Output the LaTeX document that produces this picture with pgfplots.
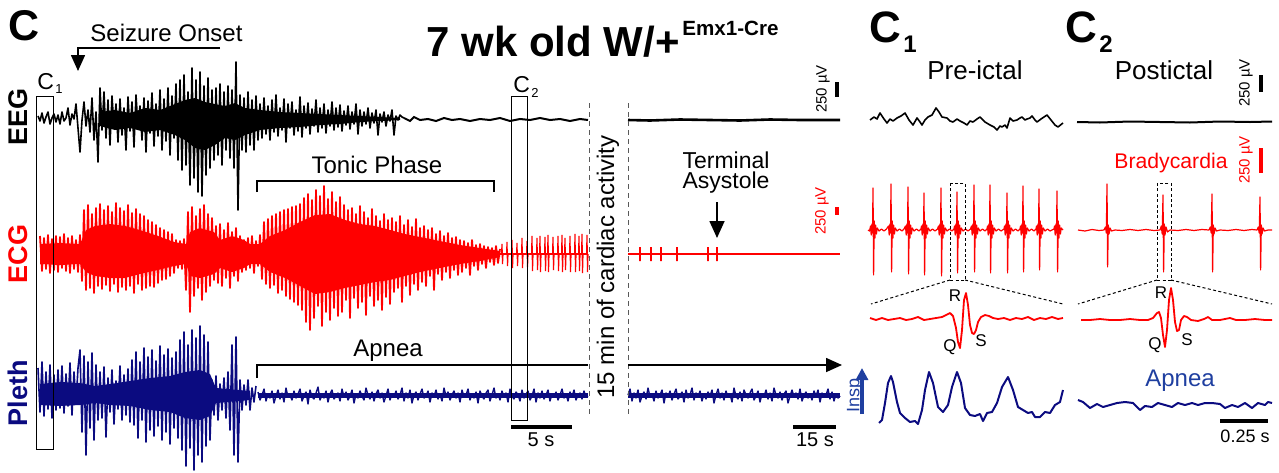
\documentclass[border=0pt]{standalone}
\usepackage{fontspec}
\setmainfont{Liberation Sans}
\usepackage{pgfplots}
\pgfplotsset{compat=1.18}
\usetikzlibrary{arrows.meta}
\definecolor{ecgred}{HTML}{FF0000}
\definecolor{pleth}{HTML}{0B0B80}
\definecolor{inspblue}{HTML}{1F3FA0}
\newcommand{\fs}[1]{\fontsize{#1}{#1}\selectfont}

\begin{document}
\begin{tikzpicture}
\begin{axis}[hide axis, scale only axis, width=639.5pt, height=236pt,
  xmin=0, xmax=1279, ymin=0, ymax=472, y dir=reverse, clip=false]
\path (0,0) rectangle (1279,472);

% ---------- dense cores (inner envelopes) ----------
\addplot[fill=black, draw=none] coordinates {
 (100,112)(115,110)(130,113)(145,108)(160,110)(175,104)(185,100)(195,98)(205,102)(215,104)(225,106)
 (235,103)(245,108)(260,110)(280,112)(300,113)(320,114)(340,115)(360,116)(380,117)(400,118)
 (400,120)(380,121)(360,122)(340,124)(320,125)(300,127)(280,128)(260,130)(245,135)(235,140)(225,138)
 (215,145)(205,150)(195,148)(185,140)(175,135)(160,130)(145,132)(130,128)(115,130)(100,126)};
\addplot[fill=ecgred, draw=none] coordinates {
 (40,244)(60,243)(80,244)(86,230)(95,226)(110,224)(125,226)(140,230)(158,236)(174,242)(186,244)(190,232)
 (200,228)(214,232)(220,240)(232,236)(244,240)(250,244)(260,244)(270,236)(285,230)(300,222)(315,215)
 (330,214)(345,220)(360,224)(375,226)(390,230)(405,234)(420,237)(440,241)(460,245)(480,248)(500,251)
 (500,257)(480,261)(460,264)(440,268)(420,272)(405,276)(390,280)(375,282)(360,285)(345,288)(330,292)
 (315,294)(300,286)(285,278)(270,272)(260,264)(250,264)(244,268)(232,272)(220,268)(214,274)(200,278)
 (190,276)(186,264)(174,266)(158,270)(140,274)(125,278)(110,278)(95,276)(86,272)(80,264)(60,265)(40,264)};
\addplot[fill=pleth, draw=none] coordinates {
 (40,384)(60,382)(80,383)(95,386)(110,384)(130,381)(150,378)(170,376)(185,372)(200,370)(210,374)(216,388)(250,391)
 (250,400)(216,403)(210,416)(200,420)(185,418)(170,412)(150,410)(130,406)(110,405)(95,403)(80,405)(60,406)(40,405)};
\addplot[fill=pleth, draw=none] coordinates {(258,393)(588,393)(588,398)(258,398)};
\addplot[fill=pleth, draw=none] coordinates {(628,393)(840,393)(840,398)(628,398)};

% ---------- main EEG (pixel rows) ----------
\addplot[black, line width=0.8pt, line join=round, mark=none]
 table[row sep=\\, header=false, x expr=\coordindex*2+38, y index=0]
 {116\\121\\113\\123\\117\\112\\124\\118\\114\\122\\
  115\\124\\112\\121\\118\\108\\125\\114\\119\\104\\128\\152\\
  120\\102\\126\\110\\132\\98\\140\\112\\162\\
  88\\130\\92\\138\\100\\145\\96\\128\\104\\142\\99\\135\\108\\150\\97\\131\\102\\147\\95\\128\\
  106\\140\\98\\152\\101\\133\\93\\146\\104\\136\\90\\150\\99\\141\\88\\155\\96\\138\\84\\160\\80\\
  170\\75\\165\\92\\185\\68\\178\\80\\192\\72\\196\\86\\175\\78\\168\\90\\160\\
  88\\155\\84\\165\\92\\150\\86\\158\\90\\168\\62\\210\\95\\
  150\\98\\152\\92\\145\\100\\150\\96\\140\\104\\
  138\\98\\134\\106\\140\\100\\132\\95\\136\\108\\130\\99\\142\\104\\128\\102\\135\\110\\131\\97\\
  137\\106\\128\\103\\134\\109\\126\\100\\132\\108\\
  128\\104\\133\\110\\126\\102\\130\\108\\127\\105\\131\\111\\125\\106\\129\\112\\124\\104\\134\\110\\
  126\\112\\124\\108\\128\\113\\123\\110\\135\\114\\122\\112\\126\\115\\121\\110\\135\\116\\120\\115\\117\\118\\};
\addplot[black, line width=1pt, mark=none] coordinates {
 (404,118)(410,121)(414,117)(420,120)(428,119)(436,121)(444,118)(452,120)(460,119)(470,121)
 (480,119)(490,120)(500,118)(510,121)(520,119)(530,120)(540,118)(550,120)(560,119)(570,121)(580,119)(588,120)};
\addplot[black, line width=1.3pt, mark=none] coordinates {
 (628,120)(650,120.5)(680,119.5)(710,120)(740,120.5)(770,119.5)(800,120)(840,120)};

% ---------- main ECG ----------
\addplot[ecgred, line width=0.9pt, line join=round, mark=none]
 table[row sep=\\, header=false, x expr=\coordindex*2+40, y index=0]
 {236\\271\\238\\269\\235\\273\\239\\270\\236\\272\\237\\268\\234\\271\\238\\273\\236\\269\\240\\272\\235\\
  281\\210\\290\\205\\288\\214\\293\\208\\286\\
  204\\289\\210\\285\\206\\291\\212\\284\\203\\292\\208\\287\\211\\290\\205\\286\\213\\293\\209\\284\\214\\
  290\\216\\288\\220\\286\\222\\287\\225\\283\\228\\280\\230\\279\\232\\276\\234\\273\\
  240\\268\\241\\269\\239\\
  290\\212\\312\\207\\296\\216\\288\\209\\300\\205\\292\\214\\286\\218\\280\\
  226\\283\\224\\286\\230\\278\\223\\288\\232\\276\\228\\281\\236\\272\\240\\
  270\\238\\268\\236\\273\\241\\266\\235\\
  279\\222\\284\\219\\288\\216\\285\\214\\293\\212\\290\\210\\296\\209\\299\\207\\302\\206\\305\\204\\
  310\\198\\322\\194\\330\\200\\318\\190\\306\\196\\326\\186\\312\\199\\320\\192\\308\\202\\316\\197\\
  312\\205\\300\\210\\318\\208\\298\\214\\308\\206\\302\\212\\315\\218\\296\\209\\306\\216\\300\\221\\310\\214\\297\\220\\304\\
  218\\292\\222\\288\\216\\302\\225\\286\\220\\295\\227\\284\\219\\290\\228\\
  282\\226\\286\\230\\276\\228\\290\\234\\274\\231\\280\\236\\272\\233\\278\\238\\270\\237\\275\\240\\
  272\\241\\268\\243\\275\\240\\266\\245\\270\\244\\264\\246\\268\\247\\262\\248\\265\\246\\263\\249\\};
\addplot[ecgred, line width=1pt, mark=none] coordinates {(498,254)(588,254)};
\addplot[ecgred, line width=0.6pt, mark=none] coordinates {
 (500,254)(501.6,254)(502,244)(502.5,264)(503,254)(506.6,254)(507,242)(507.5,266)(508,254)
 (511.6,254)(512,240)(512.5,268)(513,254)(516.6,254)(517,243)(517.5,266)(518,254)
 (521.6,254)(522,238)(522.5,268)(523,254)(526.6,254)(527,241)(527.5,267)(528,254)
 (531.6,254)(532,236)(532.5,271)(533,254)(536.6,254)(537,238)(537.5,270)(538,254)
 (539.6,254)(540,236)(540.5,272)(541,254)(544.6,254)(545,237)(545.5,271)(546,254)
 (547.6,254)(548,235)(548.5,272)(549,254)(552.6,254)(553,237)(553.5,270)(554,254)
 (557.6,254)(558,236)(558.5,271)(559,254)(561.6,254)(562,235)(562.5,272)(563,254)
 (564.6,254)(565,238)(565.5,270)(566,254)(569.6,254)(570,236)(570.5,272)(571,254)
 (574.6,254)(575,234)(575.5,272)(576,254)(578.6,254)(579,236)(579.5,271)(580,254)
 (581.6,254)(582,234)(582.5,273)(583,254)(586.6,254)(587,235)(587.5,272)(588,254)};
\addplot[ecgred, line width=1.2pt, mark=none] coordinates {(628,254)(840,254)};
\addplot[ecgred, line width=0.6pt, mark=none] coordinates {
 (640,254)(640,247)(640,261)(640,254)(651,254)(651,247)(651,261)(651,254)
 (661,254)(661,247)(661,261)(661,254)(677,254)(677,247)(677,261)(677,254)
 (708,254)(708,247)(708,261)(708,254)(717,254)(717,247)(717,261)(717,254)};

% ---------- main Pleth ----------
\addplot[pleth, line width=0.8pt, line join=round, mark=none]
 table[row sep=\\, header=false, x expr=\coordindex*2+38, y index=0]
 {368\\412\\362\\416\\372\\409\\365\\418\\375\\410\\
  370\\408\\366\\413\\374\\406\\363\\415\\372\\404\\368\\
  350\\432\\356\\455\\362\\428\\353\\440\\365\\420\\
  372\\418\\367\\437\\378\\412\\370\\424\\381\\409\\366\\420\\375\\415\\369\\422\\
  360\\425\\352\\438\\362\\420\\348\\442\\357\\430\\350\\436\\361\\426\\346\\440\\355\\432\\349\\444\\358\\428\\352\\438\\
  340\\450\\332\\466\\345\\448\\330\\470\\338\\455\\326\\462\\335\\446\\342\\440\\
  380\\415\\376\\420\\384\\410\\378\\418\\
  372\\430\\345\\455\\337\\462\\380\\410\\
  385\\405\\380\\410\\388\\402\\386\\};
\addplot[pleth, line width=0.7pt, line join=round, mark=none]
 table[row sep=\\, header=false, x expr=\coordindex*2+258, y index=0]
 {392\\400\\395\\389\\401\\394\\398\\391\\403\\396\\390\\399\\393\\402\\388\\397\\395\\400\\391\\398\\
  394\\389\\401\\396\\392\\404\\390\\397\\399\\393\\387\\400\\395\\398\\391\\402\\394\\390\\399\\396\\
  393\\401\\389\\397\\392\\400\\396\\390\\403\\394\\398\\391\\396\\400\\388\\395\\399\\392\\401\\394\\
  390\\398\\393\\402\\396\\389\\400\\394\\397\\391\\399\\395\\388\\401\\393\\398\\390\\403\\395\\392\\
  400\\394\\389\\398\\396\\391\\402\\393\\397\\390\\399\\394\\401\\388\\396\\392\\400\\395\\391\\398\\
  393\\402\\390\\397\\395\\389\\400\\394\\398\\392\\403\\391\\396\\399\\393\\390\\401\\395\\388\\398\\
  394\\400\\391\\397\\393\\402\\389\\396\\399\\392\\395\\401\\390\\398\\394\\391\\400\\396\\389\\402\\
  393\\398\\391\\399\\395\\390\\401\\394\\397\\392\\400\\395\\
  389\\398\\394\\401\\392\\397\\390\\400\\395\\393\\399\\391\\397\\396\\};
\addplot[pleth, line width=0.7pt, line join=round, mark=none]
 table[row sep=\\, header=false, x expr=\coordindex*2+628, y index=0]
 {395\\389\\401\\393\\398\\390\\402\\396\\392\\399\\388\\397\\394\\401\\391\\398\\395\\390\\403\\393\\
  397\\391\\400\\394\\389\\399\\396\\392\\402\\390\\398\\395\\388\\400\\393\\397\\391\\401\\394\\399\\
  392\\396\\390\\403\\395\\389\\398\\393\\400\\391\\397\\394\\402\\388\\396\\399\\392\\401\\390\\395\\
  398\\393\\389\\400\\396\\391\\402\\394\\397\\390\\399\\393\\401\\388\\395\\398\\392\\400\\394\\391\\
  403\\396\\390\\397\\393\\399\\389\\401\\395\\392\\398\\394\\400\\391\\396\\390\\402\\393\\397\\395\\
  389\\399\\392\\401\\394\\398\\396\\};

% ---------- C1 / C2 EEG ----------
\addplot[black, line width=0.8pt, line join=round, mark=none] coordinates {
 (870,120)(874,117)(877,119)(880,113)(884,119)(887,123)(890,119)(893,121)(897,118)(901,116)(905,113)
 (909,120)(913,125)(917,118)(920,122)(922,125)(925,120)(928,117)(932,115)(936,108)(939,112)(942,117)
 (947,118)(950,121)(953,122)(957,119)(960,121)(964,123)(967,125)(970,121)(973,122)(977,119)(980,117)
 (983,120)(985,122)(990,125)(994,127)(997,130)(1000,126)(1002,127)(1005,125)(1007,128)(1010,118)
 (1013,121)(1017,120)(1020,118)(1022,117)(1025,120)(1027,119)(1030,118)(1032,116)(1035,120)(1037,122)
 (1041,119)(1044,117)(1047,115)(1051,120)(1055,125)(1058,127)(1063,123)};
\addplot[black, line width=1pt, mark=none] coordinates {
 (1077,122)(1100,122.5)(1130,121.5)(1160,122)(1190,122.5)(1220,121.5)(1250,122)(1272,121.5)};

% ---------- C1 ECG ----------
\addplot[ecgred, line width=0.6pt, line join=round, mark=none] coordinates {
 (868,230)(869.5,231)
 (870.5,226)(871.2,235)(871.9,224)(872.5,233)(873,188)(873.6,275)(874.2,221)(874.9,238)(875.6,225)(876.4,234)(877.2,228)(879,231)(881.5,229)(884,231)(886.5,229)
 (888.5,226)(889.2,235)(889.9,224)(890.5,233)(891,184)(891.6,272)(892.2,221)(892.9,238)(893.6,225)(894.4,234)(895.2,228)(897,231)(899.5,229)(902,231)(904,229)
 (905.5,226)(906.2,235)(906.9,224)(907.5,233)(908,187)(908.6,274)(909.2,221)(909.9,238)(910.6,225)(911.4,234)(912.2,228)(914,231)(916.5,229)(919,231)(921,229)
 (921.5,226)(922.2,235)(922.9,224)(923.5,233)(924,193)(924.6,275)(925.2,221)(925.9,238)(926.6,225)(927.4,234)(928.2,228)(930,231)(932.5,229)(935,231)(937.5,229)
 (938.5,226)(939.2,235)(939.9,224)(940.5,233)(941,188)(941.6,276)(942.2,221)(942.9,238)(943.6,225)(944.4,234)(945.2,228)(947,231)(949.5,229)(952,231)(954,229)
 (954.5,226)(955.2,235)(955.9,224)(956.5,233)(957,192)(957.6,273)(958.2,221)(958.9,238)(959.6,225)(960.4,234)(961.2,228)(963,231)(965.5,229)(968,231)(970.5,229)
 (971.5,226)(972.2,235)(972.9,224)(973.5,233)(974,185)(974.6,272)(975.2,221)(975.9,238)(976.6,225)(977.4,234)(978.2,228)(980,231)(982.5,229)(985,231)(987,229)
 (987.5,226)(988.2,235)(988.9,224)(989.5,233)(990,185)(990.6,273)(991.2,221)(991.9,238)(992.6,225)(993.4,234)(994.2,228)(996,231)(998.5,229)(1001,231)(1004,229)
 (1004.5,226)(1005.2,235)(1005.9,224)(1006.5,233)(1007,193)(1007.6,273)(1008.2,221)(1008.9,238)(1009.6,225)(1010.4,234)(1011.2,228)(1013,231)(1015.5,229)(1018,231)(1020,229)
 (1020.5,226)(1021.2,235)(1021.9,224)(1022.5,233)(1023,186)(1023.6,272)(1024.2,221)(1024.9,238)(1025.6,225)(1026.4,234)(1027.2,228)(1029,231)(1031.5,229)(1034,231)(1036,229)
 (1036.5,226)(1037.2,235)(1037.9,224)(1038.5,233)(1039,189)(1039.6,270)(1040.2,221)(1040.9,238)(1041.6,225)(1042.4,234)(1043.2,228)(1045,231)(1047.5,229)(1050,231)(1054,229)
 (1054.5,226)(1055.2,235)(1055.9,224)(1056.5,233)(1057,191)(1057.6,272)(1058.2,221)(1058.9,238)(1059.6,225)(1060.4,234)(1061.2,228)(1063,230)};

% ---------- C2 ECG ----------
\addplot[ecgred, line width=0.6pt, line join=round, mark=none] coordinates {
 (1078,230)(1085,231)(1092,229.5)(1099,230.5)(1104,230)(1105.5,227)(1106.3,233)(1107,184)(1107.6,267)(1108.3,225)(1109,234)(1110,228)(1111.5,231)
 (1115,230)(1122,230.5)(1130,229.5)(1138,230.5)(1146,229.5)(1154,230.5)(1160,230)(1161.3,226)(1162.2,234)(1163,195)(1163.6,272)(1164.3,224)(1165,235)(1166,227)(1167.5,232)
 (1170,230)(1178,230.5)(1186,229.5)(1194,230.5)(1202,229.5)(1209,230)(1210.3,227)(1211.2,233)(1212,194)(1212.6,272)(1213.3,225)(1214,234)(1215,228)(1216.5,231)
 (1220,230)(1228,230.5)(1236,229.5)(1244,230.5)(1252,229.5)(1257,230)(1258.3,227)(1259.2,233)(1260,197)(1260.6,270)(1261.3,225)(1262,234)(1263,228)(1264.5,231)(1268,230)(1272,230)};

% ---------- QRS zooms ----------
\addplot[ecgred, line width=0.9pt, line join=round, mark=none] coordinates {
 (870,318)(876,320)(882,318)(888,320)(894,319)(900,318)(906,320)(912,319)(918,317)(924,320)(930,319)
 (936,318)(942,317)(946,315)(950,313)(953,316)(956,328)(958,342)(960,348)(962,330)(964,300)(966,293)
 (968,305)(970,325)(972,333)(974,334)(976,330)(978,322)(981,317)(985,315)(989,316)(993,318)(998,319)
 (1004,318)(1010,320)(1016,318)(1022,319)(1028,317)(1034,320)(1040,318)(1046,319)(1052,317)(1058,319)(1063,318)};
\addplot[ecgred, line width=0.9pt, line join=round, mark=none] coordinates {
 (1081,320)(1090,320)(1100,319)(1110,320)(1120,320)(1130,319)(1140,320)(1148,320)(1153,318)(1157,313)
 (1159,312)(1161,318)(1163,335)(1165,347)(1167,330)(1169,300)(1171,288)(1173,300)(1175,322)(1177,331)
 (1179,330)(1181,320)(1184,316)(1187,317)(1191,320)(1198,321)(1204,319)(1208,317)(1212,320)(1220,320)
 (1230,318)(1236,320)(1245,320)(1255,319)(1265,320)(1272,320)};

% ---------- breathing ----------
\addplot[pleth, line width=1pt, line join=round, mark=none] coordinates {
 (879,423)(882,420)(885,403)(888,383)(891,376)(893,382)(897,402)(900,413)(905,418)(910,422)(915,421)
 (918,424)(922,410)(925,390)(929,372)(933,383)(938,407)(943,412)(948,405)(952,387)(957,372)(961,383)
 (965,408)(970,415)(975,416)(980,414)(983,421)(987,413)(992,412)(997,403)(1002,387)(1008,377)(1013,390)
 (1018,407)(1023,410)(1028,413)(1032,412)(1035,417)(1040,417)(1045,412)(1050,413)(1055,405)(1060,402)(1063,390)};
\addplot[pleth, line width=1pt, line join=round, mark=none] coordinates {
 (1078,400)(1083,402)(1090,408)(1097,404)(1103,407)(1110,405)(1117,403)(1125,402)(1133,403)(1140,410)
 (1145,406)(1152,407)(1158,403)(1165,405)(1172,407)(1178,403)(1185,405)(1192,403)(1198,405)(1205,403)
 (1212,403)(1220,404)(1225,408)(1232,405)(1238,407)(1245,403)(1252,408)(1258,403)(1265,405)(1268,402)(1272,403)};

% ---------- frames, brackets, scale bars ----------
\draw[line width=0.5pt] (36,96) rectangle (53,449);
\draw[line width=0.5pt] (511,96) rectangle (527,420);
\draw[gray!70!black, line width=0.5pt, dash pattern=on 2.5pt off 2pt] (589,103) -- (589,415);
\draw[gray!70!black, line width=0.5pt, dash pattern=on 2.5pt off 2pt] (628,103) -- (628,415);
\draw[line width=0.8pt, -{Triangle[length=8pt,width=7pt]}] (220,48) -- (78,48) -- (78,71);
\draw[line width=0.8pt] (257,192) -- (257,181) -- (494,181) -- (494,192);
\draw[line width=0.8pt, -{Triangle[length=8.5pt,width=7.5pt]}] (717,202) -- (717,238);
\draw[line width=0.8pt] (257,378) -- (257,365) -- (588,365);
\draw[line width=0.8pt, -{Triangle[length=8pt,width=7pt]}] (628,365) -- (842,365);
\draw[line width=1.6pt] (511,427) -- (572,427);
\draw[line width=1.6pt] (793,427) -- (836,427);
\draw[line width=1.6pt] (1220,421) -- (1268,421);
\draw[line width=2pt] (837,82) -- (837,97);
\draw[ecgred, line width=2pt] (837,207) -- (837,215);
\draw[line width=2pt] (1261,75) -- (1261,92);
\draw[ecgred, line width=2pt] (1261,148) -- (1261,173);
\draw[line width=0.5pt, dash pattern=on 1.5pt off 1.2pt] (950,183) rectangle (965,280);
\draw[line width=0.5pt, dash pattern=on 1.5pt off 1.2pt] (1157,183) rectangle (1171,280);
\draw[line width=0.5pt, dash pattern=on 1.5pt off 1.2pt] (950,280) -- (871,304);
\draw[line width=0.5pt, dash pattern=on 1.5pt off 1.2pt] (965,280) -- (1063,304);
\draw[line width=0.5pt, dash pattern=on 1.5pt off 1.2pt] (1157,280) -- (1078,304);
\draw[line width=0.5pt, dash pattern=on 1.5pt off 1.2pt] (1171,280) -- (1272,304);
\draw[inspblue, line width=1.6pt, -{Triangle[length=6pt,width=6pt]}] (862,414) -- (862,368);

% ---------- text ----------
\node[anchor=base west, inner sep=0pt, font=\bfseries\fs{21.5}] at (8,40) {C};
\node[anchor=base west, inner sep=0pt, font=\fs{12}] at (90,41) {Seizure Onset};
\node[anchor=base west, inner sep=0pt, font=\bfseries\fs{21}] at (426,56) {7 wk old W/+};
\node[anchor=base west, inner sep=0pt, font=\bfseries\fs{10.3}] at (682,35) {Emx1-Cre};
\node[anchor=base west, inner sep=0pt, font=\fs{11.5}] at (37,89) {C};
\node[anchor=base west, inner sep=0pt, font=\fs{6.5}] at (55,93) {1};
\node[anchor=base west, inner sep=0pt, font=\fs{11.5}] at (513,92) {C};
\node[anchor=base west, inner sep=0pt, font=\fs{6.5}] at (531,97) {2};
\node[rotate=90, inner sep=0pt, font=\bfseries\fs{13.5}] at (18,117) {EEG};
\node[rotate=90, inner sep=0pt, text=ecgred, font=\bfseries\fs{13.5}] at (18,254) {ECG};
\node[rotate=90, inner sep=0pt, text=pleth, font=\bfseries\fs{13.5}] at (18,393) {Pleth};
\node[anchor=base, inner sep=0pt, font=\fs{12}] at (377,173) {Tonic Phase};
\node[anchor=base, inner sep=0pt, font=\fs{11.5}] at (726,168) {Terminal};
\node[anchor=base, inner sep=0pt, font=\fs{11.5}] at (726,188) {Asystole};
\node[anchor=base, inner sep=0pt, font=\fs{12}] at (388,356) {Apnea};
\node[rotate=90, inner sep=0pt, font=\fs{12}] at (608,267) {15 min of cardiac activity};
\node[rotate=90, inner sep=0pt, font=\fs{7.5}] at (823,89) {250 µV};
\node[rotate=90, inner sep=0pt, text=ecgred, font=\fs{7.5}] at (822,211) {250 µV};
\node[anchor=base, inner sep=0pt, font=\fs{10}] at (541,446) {5 s};
\node[anchor=base, inner sep=0pt, font=\fs{10}] at (815,446) {15 s};
\node[anchor=base west, inner sep=0pt, font=\bfseries\fs{22}] at (869,42) {C};
\node[anchor=base west, inner sep=0pt, font=\bfseries\fs{12}] at (903,52) {1};
\node[anchor=base west, inner sep=0pt, font=\bfseries\fs{22}] at (1065,42) {C};
\node[anchor=base west, inner sep=0pt, font=\bfseries\fs{12}] at (1099,52) {2};
\node[anchor=base, inner sep=0pt, font=\fs{13}] at (975,79) {Pre-ictal};
\node[anchor=base, inner sep=0pt, font=\fs{13}] at (1164,79) {Postictal};
\node[rotate=90, inner sep=0pt, font=\fs{7.5}] at (1246,83) {250 µV};
\node[rotate=90, inner sep=0pt, text=ecgred, font=\fs{7.5}] at (1246,160) {250 µV};
\node[anchor=base, inner sep=0pt, text=ecgred, font=\fs{10.6}] at (1171,168) {Bradycardia};
\node[inner sep=0pt, font=\fs{8.5}] at (955,296) {R};
\node[inner sep=0pt, font=\fs{8.5}] at (950,347) {Q};
\node[inner sep=0pt, font=\fs{8.5}] at (981,341) {S};
\node[inner sep=0pt, font=\fs{8.5}] at (1161,293) {R};
\node[inner sep=0pt, font=\fs{8.5}] at (1155,345) {Q};
\node[inner sep=0pt, font=\fs{8.5}] at (1187,340) {S};
\node[rotate=90, inner sep=0pt, text=inspblue, font=\fs{9}] at (855,395) {Insp};
\node[anchor=base, inner sep=0pt, text=inspblue, font=\fs{12}] at (1180,386) {Apnea};
\node[anchor=base, inner sep=0pt, font=\fs{9}] at (1245,442) {0.25 s};
\end{axis}
\end{tikzpicture}
\end{document}
